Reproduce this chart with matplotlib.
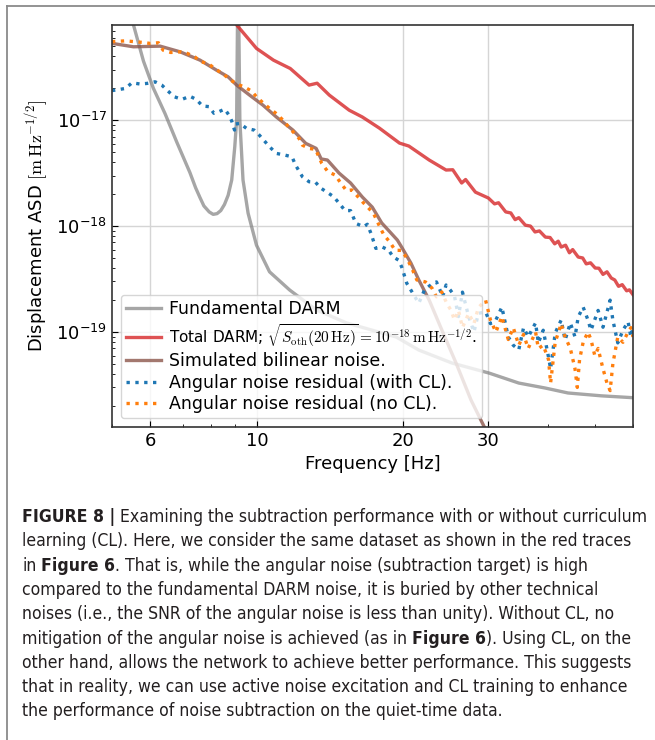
import os
import numpy as np
import matplotlib
matplotlib.use('Agg')
import matplotlib.pyplot as plt
from matplotlib import ticker, font_manager
from matplotlib.font_manager import FontProperties
from matplotlib.lines import Line2D

plt.rcParams['font.family'] = 'DejaVu Sans'
plt.rcParams['mathtext.fontset'] = 'cm'

# ---------------- data (ASD in units of 1e-18 m/sqrt(Hz)) ----------------
fund_f = [5.3, 5.54, 5.81, 6.09, 6.44, 6.81, 7.25, 7.45, 7.61, 7.75, 7.95, 8.1, 8.25, 8.4, 8.55,
          8.7, 8.85, 8.98, 9.06, 9.1, 9.12, 9.15, 9.2, 9.34, 9.57, 9.96, 10.6, 11.67, 13.24, 15.3,
          19.4, 21.6, 25.3, 30.2, 34.8, 39.5, 44.0, 51.6, 60.0]
fund_asd = [130, 79, 36, 20, 11.5, 6.2, 3.2, 2.3, 1.85, 1.55, 1.36, 1.29, 1.31, 1.4, 1.6,
            1.95, 2.72, 5.6, 10, 100, 1000, 100, 10, 2.72, 1.32, 0.66, 0.37, 0.249, 0.162, 0.122,
            0.0897, 0.0676, 0.051, 0.041, 0.033, 0.0296, 0.0266, 0.025, 0.024]

total_f = [8.6, 9.07, 9.96, 10.8, 11.7, 12.8, 13.3, 14.1, 15.5, 16.5, 17.9, 19.7, 20.6, 22.7,
           24.6, 25.4, 26.5, 27.0, 28.3, 30.1, 31.0, 31.6, 32.7, 33.5, 34.2, 34.8, 35.9, 36.8,
           37.6, 38.4, 39.5, 40.4, 41.3, 42.0, 42.6, 43.5, 44.3, 45.0, 46.2, 47.2, 48.0, 49.0,
           50.1, 51.0, 52.0, 53.0, 54.1, 55.0, 56.0, 57.0, 58.2, 59.0, 60.0]
total_asd = [120, 78.7, 47.5, 36.8, 30.7, 21.4, 22.3, 17.2, 12.4, 10.7, 8.4, 6.07, 5.69, 4.2,
             3.38, 3.4, 2.55, 2.75, 2.09, 1.84, 1.62, 1.66, 1.36, 1.33, 1.15, 1.2, 1.02, 1.0,
             0.88, 0.9, 0.787, 0.78, 0.68, 0.72, 0.634, 0.66, 0.56, 0.6, 0.51, 0.50, 0.44, 0.45,
             0.402, 0.40, 0.35, 0.37, 0.323, 0.31, 0.27, 0.28, 0.245, 0.25, 0.225]

bilin_f = [5.0, 5.54, 6.29, 6.92, 7.61, 8.23, 8.70, 9.06, 9.64, 10.27, 10.95, 11.85, 12.6, 13.24,
           13.56, 13.97, 14.77, 15.6, 16.5, 17.3, 18.1, 19.5, 19.9, 20.8, 21.6, 22.7, 24.1,
           25.8, 27.7, 29.6, 31.0]
bilin_asd = [53, 49.2, 49.9, 44.1, 36.8, 29.6, 25.6, 21.4, 17.2, 13.85, 10.7, 8.05, 6.03, 5.41,
             4.3, 4.2, 3.16, 2.55, 1.88, 1.51, 1.07, 0.738, 0.634, 0.448, 0.31, 0.20, 0.105,
             0.051, 0.0229, 0.0124, 0.008]

cl_f = [5.0, 5.08, 5.33, 5.5, 5.72, 5.91, 6.14, 6.34, 6.53, 6.73, 6.98, 7.25, 7.47, 7.7, 7.94,
        8.13, 8.32, 8.56, 8.74, 8.85, 8.97, 9.02, 9.2, 9.5, 9.85, 10.1, 10.6, 10.95, 11.4, 11.8,
        12.0, 12.4, 12.8, 13.2, 13.5, 14.0, 14.4, 15.2, 15.6, 16.0, 16.6, 16.9, 17.2, 17.6, 18.1,
        18.7, 19.1, 19.6, 19.9, 20.1, 20.4, 20.9, 21.2, 21.6, 22.2, 22.6, 23.1, 23.5, 23.9, 24.2,
        24.6, 25.1, 25.6, 26.1, 26.6, 27.4, 28.1, 28.7, 29.7, 30.4, 31.2, 32.1, 33.1, 33.9, 34.8,
        35.6, 36.4, 37.7, 38.2, 39.1, 40.1, 40.5, 41.4, 42.6, 43.4, 44.5, 45.5, 46.2, 47.3, 48.4,
        49.1, 50.8, 52.0, 53.8, 54.5, 55.8, 57.2, 58.6, 59.4, 60.0]
cl_asd = [19.0, 19.2, 19.9, 22.5, 21.9, 22.2, 23.0, 21.4, 18.8, 16.6, 15.7, 16.8, 15.7, 13.6, 13.4,
          11.6, 12.0, 12.7, 11.1, 9.8, 8.05, 9.2, 9.3, 8.35, 8.05, 7.2, 5.6, 4.85, 4.68, 4.5,
          3.76, 2.92, 2.62, 2.59, 2.3, 2.06, 1.89, 1.40, 1.40, 1.06, 0.986, 1.04, 0.85, 0.616, 0.638,
          0.594, 0.513, 0.478, 0.413, 0.358, 0.288, 0.24, 0.215, 0.187, 0.25, 0.267, 0.288, 0.297,
          0.249, 0.215, 0.278, 0.249, 0.22, 0.14, 0.238, 0.14, 0.10, 0.15, 0.155, 0.12, 0.13, 0.172,
          0.09, 0.075, 0.068, 0.11, 0.09, 0.122, 0.079, 0.104, 0.058, 0.045, 0.098, 0.13, 0.084,
          0.122, 0.09, 0.139, 0.172, 0.13, 0.104, 0.16, 0.111, 0.20, 0.13, 0.079, 0.104, 0.125,
          0.09, 0.11]

nocl_f = [5.0, 5.33, 5.81, 6.0, 6.24, 6.38, 6.62, 6.92, 7.16, 7.42, 7.65, 7.9, 8.22, 8.5, 8.77,
          9.06, 9.39, 9.73, 9.96, 10.3, 10.6, 10.9, 11.3, 11.6, 12.2, 12.4, 12.8, 13.2, 13.6, 14.0,
          14.5, 14.9, 15.3, 15.7, 16.5, 16.9, 17.4, 18.0, 18.3, 18.8, 19.3, 19.9, 20.4, 20.9, 21.4,
          22.3, 23.0, 23.5, 24.1, 24.7, 25.2, 25.6, 26.1, 26.6, 27.4, 28.1, 28.7, 29.7, 30.4, 31.2,
          32.1, 33.1, 33.9, 34.8, 35.6, 36.4, 37.7, 38.2, 39.1, 40.1, 40.5, 41.4, 42.6, 43.4, 44.5,
          45.5, 46.0, 46.5, 47.3, 48.4, 49.1, 50.0, 50.8, 52.0, 53.0, 53.8, 54.5, 55.8, 57.2, 58.6,
          59.4, 60.0]
nocl_asd = [55, 56, 54, 52.9, 53.7, 45.7, 43.5, 44.1, 42.6, 39.5, 35.5, 34.3, 30, 27.2, 24.2,
            21.9, 20.6, 18.8, 16.6, 14.4, 12.9, 11.7, 10.0, 8.65, 6.72, 5.8, 5.4, 5.3, 3.9, 3.26,
            3.03, 2.53, 2.16, 2.19, 1.7, 1.52, 1.32, 0.95, 0.82, 0.71, 0.59, 0.59, 0.498, 0.40, 0.31,
            0.297, 0.26, 0.215, 0.239, 0.185, 0.16, 0.13, 0.16, 0.11, 0.15, 0.12, 0.17, 0.20, 0.13,
            0.10, 0.14, 0.085, 0.11, 0.075, 0.095, 0.07, 0.10, 0.07, 0.075, 0.055, 0.033, 0.08, 0.12,
            0.09, 0.07, 0.045, 0.03, 0.055, 0.08, 0.10, 0.085, 0.06, 0.07, 0.045, 0.033, 0.028, 0.05,
            0.09, 0.08, 0.10, 0.11, 0.09]

labels = ['Fundamental DARM',
          r'Total DARM; $\sqrt{S_{\rm oth}(20\,\mathrm{Hz})}=10^{-18}\,\mathrm{m\,Hz}^{-1/2}$.',
          'Simulated bilinear noise.',
          'Angular noise residual (with CL).',
          'Angular noise residual (no CL).']

x_ticks = [6, 10, 20, 30]
y_ticks = [1e-19, 1e-18, 1e-17]

caption_lines = [
    [('FIGURE 8 |', True), (' Examining the subtraction performance with or without curriculum', False)],
    [('learning (CL). Here, we consider the same dataset as shown in the red traces', False)],
    [('in ', False), ('Figure 6', True), ('. That is, while the angular noise (subtraction target) is high', False)],
    [('compared to the fundamental DARM noise, it is buried by other technical', False)],
    [('noises (i.e., the SNR of the angular noise is less than unity). Without CL, no', False)],
    [('mitigation of the angular noise is achieved (as in ', False), ('Figure 6', True), ('). Using CL, on the', False)],
    [('other hand, allows the network to achieve better performance. This suggests', False)],
    [('that in reality, we can use active noise excitation and CL training to enhance', False)],
    [('the performance of noise subtraction on the quiet-time data.', False)],
]
# right end (px) of each caption line in the original page
caption_right = [648, 641, 590, 572, 622, 633, 648, 640, 515]

scale = 1e-18
W, H = 655, 740

fig = plt.figure(figsize=(W / 100, H / 100), dpi=100)
renderer = fig.canvas.get_renderer()

# outer frame of the figure panel (cut off at right and bottom)
fig.add_artist(Line2D([7 / W, 7 / W], [0, 1 - 6 / H], transform=fig.transFigure, color='#8a8a8a', lw=1.3))
fig.add_artist(Line2D([7 / W, 1], [1 - 6 / H, 1 - 6 / H], transform=fig.transFigure, color='#8a8a8a', lw=1.3))

ax = fig.add_axes([112 / W, 1 - 427 / H, (633 - 112) / W, (427 - 25) / H])

ax.plot(fund_f, np.array(fund_asd) * scale, color='gray', alpha=0.7, lw=2.4, label=labels[0])
ax.plot(total_f, np.array(total_asd) * scale, color='tab:red', alpha=0.8, lw=2.4, label=labels[1])
ax.plot(bilin_f, np.array(bilin_asd) * scale, color='tab:brown', alpha=0.8, lw=2.4, label=labels[2])
ax.plot(cl_f, np.array(cl_asd) * scale, color='tab:blue', ls=':', lw=2.4, label=labels[3])
ax.plot(nocl_f, np.array(nocl_asd) * scale, color='tab:orange', ls=':', lw=2.4, label=labels[4])

ax.set_xscale('log')
ax.set_yscale('log')
ax.set_xlim(5, 60)
ax.set_ylim(1.27e-20, 7.9e-17)

ax.xaxis.set_major_locator(ticker.FixedLocator(x_ticks))
ax.xaxis.set_major_formatter(ticker.FuncFormatter(lambda v, p: '%d' % v))
ax.xaxis.set_minor_locator(ticker.LogLocator(base=10, subs=np.arange(1, 10), numticks=20))
ax.xaxis.set_minor_formatter(ticker.NullFormatter())
ax.yaxis.set_major_locator(ticker.FixedLocator(y_ticks))
ax.yaxis.set_major_formatter(ticker.LogFormatterSciNotation())
ax.yaxis.set_minor_locator(ticker.LogLocator(base=10, subs=np.arange(2, 10), numticks=20))
ax.yaxis.set_minor_formatter(ticker.NullFormatter())

ax.tick_params(which='both', direction='in', top=False, right=False, labelsize=13)
ax.tick_params(which='major', length=4)
ax.tick_params(which='minor', length=2.5)
ax.grid(True, which='major', color='#d5d5d5', lw=1.0)
for s in ax.spines.values():
    s.set_color('#333333')
    s.set_linewidth(1.2)

ax.set_xlabel('Frequency [Hz]', fontsize=13)
ax.set_ylabel(r'Displacement ASD $[\mathrm{m\,Hz}^{-1/2}]$', fontsize=13)

leg = ax.legend(loc='lower left', fontsize=12.5, framealpha=0.8, handlelength=2.0,
                labelspacing=0.2, borderpad=0.3, handletextpad=0.5)
# the formula entry is set a little smaller so the box keeps its width
leg.get_texts()[1].set_fontsize(11)


# ---------------- caption ----------------
def find_file(names):
    for f in font_manager.fontManager.ttflist:
        if os.path.basename(f.fname) in names:
            return f.fname
    return None


reg_file = find_file(['LiberationSansNarrow-Regular.ttf'])
bold_file = find_file(['LiberationSansNarrow-Bold.ttf'])
if reg_file is None:
    reg_file = find_file(['DejaVuSansCondensed.ttf'])
    bold_file = find_file(['DejaVuSansCondensed-Bold.ttf'])


def cap_prop(size, bold):
    f = bold_file if bold else reg_file
    if f is not None:
        return FontProperties(fname=f, size=size)
    return FontProperties(family='Liberation Sans', size=size, weight='bold' if bold else 'normal')


def text_width(s, size, bold):
    return renderer.get_text_width_height_descent(s, cap_prop(size, bold), ismath=False)[0]


def space_width(size):
    return text_width('a a', size, False) - text_width('aa', size, False)


def layout_line(parts, size, space_w):
    # x offsets of each segment, and the full line width
    xs, x = [], 0.0
    for txt, bold in parts:
        lead = len(txt) - len(txt.lstrip(' '))
        trail = len(txt) - len(txt.rstrip(' '))
        core = txt.strip(' ')
        x += lead * space_w
        xs.append((x, core, bold))
        x += text_width(core, size, bold) + trail * space_w
    return xs, x


# font size: typical fit of the lines to their original ends, without running off the page
sizes = []
for parts, right in zip(caption_lines, caption_right):
    _, w = layout_line(parts, 12, space_width(12))
    sizes.append(12 * (right - 22) / w)
cap_size = float(np.median(sizes))
widest = max(layout_line(p, cap_size, space_width(cap_size))[1] for p in caption_lines)
if 22 + widest > 650:
    cap_size *= (650 - 22) / widest
space_w = space_width(cap_size)

for i, parts in enumerate(caption_lines):
    y = 1 - (517 + i * 24.3) / H
    xs, _ = layout_line(parts, cap_size, space_w)
    for x, core, bold in xs:
        fig.text((22 + x) / W, y, core, fontproperties=cap_prop(cap_size, bold),
                 color='#231f20', va='center')

plt.savefig('out.png', dpi=100)
plt.close('all')
